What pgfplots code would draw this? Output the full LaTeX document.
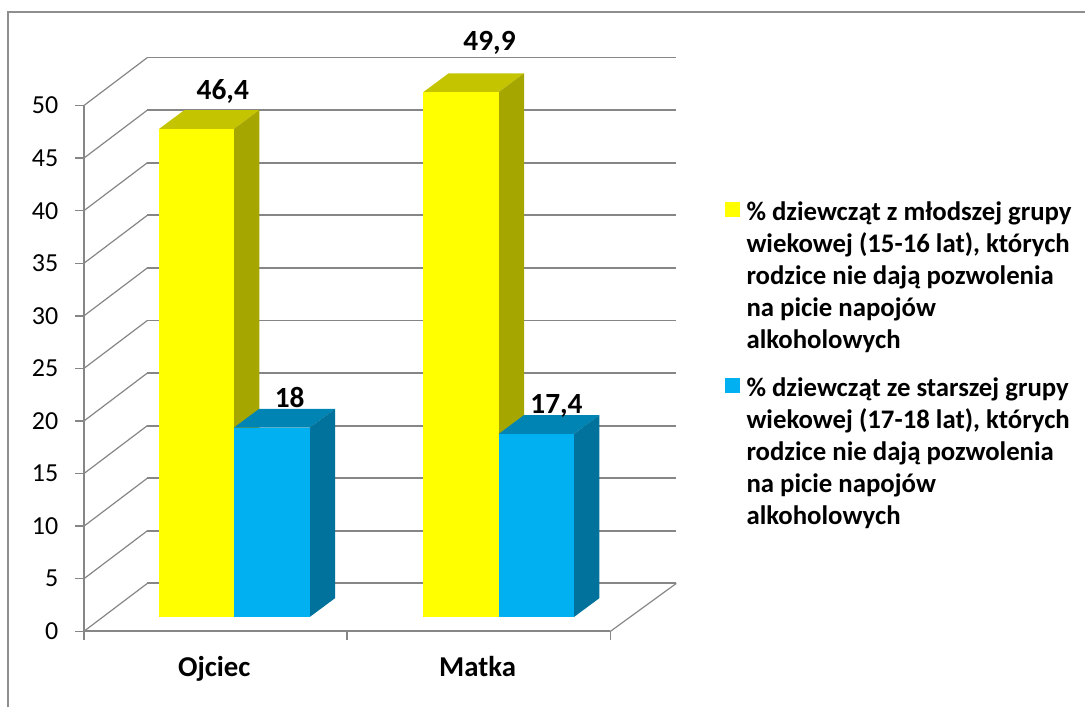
\documentclass[border=0pt]{standalone}
\usepackage{fontspec}
\setmainfont{Carlito}
\usepackage{pgfplots}
\pgfplotsset{compat=1.18}
\definecolor{gridgray}{HTML}{868686}
\definecolor{framegray}{HTML}{8E8E8E}
\definecolor{yfront}{HTML}{FFFF00}
\definecolor{ytop}{HTML}{C4C400}
\definecolor{yside}{HTML}{A6A600}
\definecolor{bfront}{HTML}{00B0F0}
\definecolor{btop}{HTML}{0084B4}
\definecolor{bside}{HTML}{00729C}
\pgfplotsset{
  barface/.style={draw=none,fill=#1,forget plot,/pgfplots/y filter/.expression={y+1.36}},
}
\begin{document}
\begin{tikzpicture}[x=0.75pt,y=0.75pt]
\begin{axis}[
  scale only axis,
  width=395.25pt,
  height=394.7pt,
  xmin=84,xmax=611,
  ymin=0,ymax=50,
  clip=false,
  axis lines*=left,
  axis line style={gridgray,line width=1.3pt,-},
  ytick={0,5,...,50},
  xtick={84,347.5,611},
  xticklabels={,,},
  extra x ticks={214.5,478},
  extra x tick labels={Ojciec,Matka},
  extra x tick style={major tick length=0pt,
    xticklabel style={font=\fontsize{21.6}{24}\bfseries\selectfont,text=black,yshift=-15.25pt}},
  tick align=outside,
  major tick length=6.75pt,
  tick style={gridgray,line width=1.1pt},
  /pgf/number format/assume math mode=true,
  yticklabel style={font=\fontsize{19.5}{22}\selectfont,text=black,xshift=-9pt},
  unbounded coords=jump,
  legend style={
    at={(axis cs:726,41.1)},anchor=north west,
    draw=none,fill=none,inner sep=0pt,outer sep=0pt,
    row sep=16.25pt,
    font=\fontsize{20.1}{24}\bfseries\selectfont,
    cells={align=left,anchor=north west},
  },
  legend image code/.code={\fill[#1,draw=none] (0,-13.4pt) rectangle (11.3pt,-2.1pt);\path[draw=none,fill=none] (0,-2.1pt) -- (13.9pt,-2.1pt);},
]
% side walls: diagonals from the front plane to the back wall
\addplot[gridgray,line width=0.9pt,forget plot] coordinates {
 (84,0)(147.5,4.56) (nan,nan)
 (84,5)(147.5,9.56) (nan,nan)
 (84,10)(147.5,14.56) (nan,nan)
 (84,15)(147.5,19.56) (nan,nan)
 (84,20)(147.5,24.56) (nan,nan)
 (84,25)(147.5,29.56) (nan,nan)
 (84,30)(147.5,34.56) (nan,nan)
 (84,35)(147.5,39.56) (nan,nan)
 (84,40)(147.5,44.56) (nan,nan)
 (84,45)(147.5,49.56) (nan,nan)
 (84,50)(147.5,54.56) (nan,nan)
 (677,4.56)(611,0)
};
% back wall gridlines
\addplot[gridgray,line width=1.4pt,forget plot] coordinates {
 (147.5,4.56)(677,4.56) (nan,nan)
 (147.5,9.56)(677,9.56) (nan,nan)
 (147.5,14.56)(677,14.56) (nan,nan)
 (147.5,19.56)(677,19.56) (nan,nan)
 (147.5,24.56)(677,24.56) (nan,nan)
 (147.5,29.56)(677,29.56) (nan,nan)
 (147.5,34.56)(677,34.56) (nan,nan)
 (147.5,39.56)(677,39.56) (nan,nan)
 (147.5,44.56)(677,44.56) (nan,nan)
 (147.5,49.56)(677,49.56) (nan,nan)
 (147.5,54.56)(677,54.56)
};
% Ojciec, yellow 46.4
\addplot[barface=ytop] coordinates {(159,46.4)(184.5,48.2)(259.5,48.2)(234,46.4)} --cycle;
\addplot[barface=yside] coordinates {(234,0)(259.5,1.8)(259.5,48.2)(234,46.4)} --cycle;
\addplot[barface=yfront] coordinates {(159,0)(234,0)(234,46.4)(159,46.4)} --cycle;
% Ojciec, blue 18
\addplot[barface=btop] coordinates {(234,18)(259.5,19.8)(335.5,19.8)(310,18)} --cycle;
\addplot[barface=bside] coordinates {(310,0)(335.5,1.8)(335.5,19.8)(310,18)} --cycle;
\addplot[barface=bfront] coordinates {(234,0)(310,0)(310,18)(234,18)} --cycle;
% Matka, yellow 49.9
\addplot[barface=ytop] coordinates {(423.5,49.9)(449,51.7)(524.5,51.7)(499,49.9)} --cycle;
\addplot[barface=yside] coordinates {(499,0)(524.5,1.8)(524.5,51.7)(499,49.9)} --cycle;
\addplot[barface=yfront] coordinates {(423.5,0)(499,0)(499,49.9)(423.5,49.9)} --cycle;
% Matka, blue 17.4
\addplot[barface=btop] coordinates {(499,17.4)(524.5,19.2)(600,19.2)(574.5,17.4)} --cycle;
\addplot[barface=bside] coordinates {(574.5,0)(600,1.8)(600,19.2)(574.5,17.4)} --cycle;
\addplot[barface=bfront] coordinates {(499,0)(574.5,0)(574.5,17.4)(499,17.4)} --cycle;
\addlegendimage{fill=yfront}
\addlegendimage{fill=bfront}
\addlegendentry{\% dziewcząt z młodszej grupy\\wiekowej (15-16 lat), których\\rodzice nie dają pozwolenia\\na picie napojów\\alkoholowych}
\addlegendentry{\% dziewcząt ze starszej grupy\\wiekowej (17-18 lat), których\\rodzice nie dają pozwolenia\\na picie napojów\\alkoholowych}
% value labels
\begin{scope}[every node/.style={font=\fontsize{22}{24}\bfseries\selectfont,text=black}]
\node at (axis cs:223,51.3) {46,4};
\node at (axis cs:490,56.0) {49,9};
\node at (axis cs:290,22.2) {18};
\node at (axis cs:557,21.45) {17,4};
\end{scope}
% frame and page extent
\draw[framegray,line width=1.5pt] (axis cs:8.5,-7.225) -- (axis cs:8.5,58.9) -- (axis cs:1086,58.9);
\path[use as bounding box] (axis cs:0,-7.225) rectangle (axis cs:1086,60.035);
\end{axis}
\end{tikzpicture}
\end{document}
